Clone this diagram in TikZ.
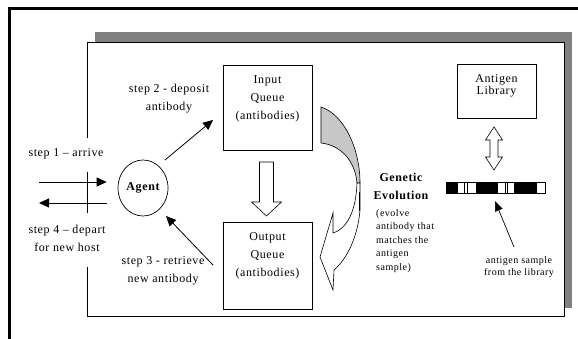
\documentclass[tikz,border=0pt]{standalone}
\usepackage{fontspec}
\setmainfont{Liberation Serif}[LetterSpace=5]
\usetikzlibrary{shapes.geometric,arrows.meta,calc}
\begin{document}
\begin{tikzpicture}[x=1pt,y=-1pt,
  txt/.style={font=\fontsize{12}{18}\selectfont, align=center, inner sep=0pt},
  small/.style={font=\fontsize{10}{13.5}\selectfont, align=left, inner sep=0pt},
  box/.style={draw, line width=0.8pt, fill=white, inner sep=0pt},
  arr/.style={line width=0.8pt, -{Triangle[length=10pt,width=9pt]}},
  hollow/.style={draw, line width=0.6pt, fill=white, line join=miter}]
\useasboundingbox (0,0) rectangle (578,339);
\fill[white] (0,0) rectangle (578,339);
% outer frame
\draw[line width=3pt] (9.5,340) -- (9.5,8.5) -- (579,8.5);
% shadow and inner panel
\fill[black!50] (95,32) rectangle (572,308);
\fill[white] (87,42) rectangle (564,316);
\draw[line width=0.9pt] (87,138) -- (87,42) -- (564,42) -- (564,316) -- (87,316) -- (87,267);
\draw[line width=0.9pt] (87,172) -- (87,213);
% boxes
\node[box, minimum width=89pt, minimum height=85pt] (inq) at (267.5,107.5) {};
\node[box, minimum width=89pt, minimum height=87pt] (outq) at (267.5,265.5) {};
\node[box, minimum width=79pt, minimum height=54pt] (lib) at (496.5,91) {};
\node[ellipse, draw, line width=0.7pt, minimum width=50pt, minimum height=56pt, inner sep=0pt,
      font=\bfseries\fontsize{12}{14}\selectfont] (agent) at (143,188) {Agent};
% texts
\node[txt] (inqt) at (267.5,98.5) {Input\\Queue\\(antibodies)};
\node[txt] (outqt) at (267.5,255.5) {Output\\Queue\\(antibodies)};
\node[txt, font=\fontsize{12}{12.5}\selectfont] (libt) at (496.5,86) {Antigen\\Library};
\node[txt] (s2t) at (169,99) {step 2 - deposit\\antibody};
\node[txt] (s3t) at (163,270.5) {step 3 - retrieve\\new antibody};
\node[txt] (s1t) at (66,154) {step 1 – arrive};
\node[txt] (s4t) at (67,238) {step 4 – depart\\for new host};
\node[txt, font=\bfseries\fontsize{12}{18}\selectfont] (ge) at (401,186) {Genetic\\Evolution};
\node[small, anchor=north west] (get) at (376,209) {(evolve\\antibody that\\matches the\\antigen\\sample)};
\node[small, align=center, font=\fontsize{10}{12.5}\selectfont] (ast) at (519,267) {antigen sample\\from the library};
% step arrows
\coordinate (s1a) at (39,182);
\coordinate (s4a) at (39,203);
\draw[arr, shorten >=11pt] (s1a) -- (s1a -| agent.west);
\draw[arr, shorten <=11pt] (agent.west |- s4a) -- (s4a);
\coordinate (s2a) at (165,160);
\coordinate (s2b) at (213,120);
\draw[arr] (s2a) -- (s2b);
\coordinate (s3a) at (213,265);
\coordinate (s3b) at (166,216);
\draw[arr] (s3a) -- (s3b);
% hollow down arrow between queues
\draw[hollow] (259.5,162) -- (273.5,162) -- (273.5,202) -- (281.5,202) -- (266.5,216) -- (251.5,202) -- (259.5,202) -- cycle;
% double arrow under library
\draw[hollow] (494,127) -- (502.5,140) -- (498,140) -- (498,157) -- (502.5,157) -- (494,170)
  -- (485.5,157) -- (490,157) -- (490,140) -- (485.5,140) -- cycle;
% barcode
\fill[black] (446,182) rectangle (457,193);
\fill[black] (476,182) rectangle (497,193);
\fill[black] (514,182) rectangle (536,193);
\draw[line width=0.6pt] (446,182) rectangle (545,193);
\foreach \x in {457,464.5,467,476,497,505,507,514,536} \draw[line width=0.5pt] (\x,182) -- (\x,193);
\coordinate (asa) at (514,247);
\coordinate (asb) at (495,201);
\draw[line width=0.7pt, -{Triangle[length=10pt,width=8pt]}] (asa) -- (asb);
% curved arrow (genetic evolution)
\filldraw[fill=black!22, line width=0.6pt] (321,107) .. controls (345,115) and (360,150) .. (360,183)
  -- (357,183) .. controls (355,160) and (340,145) .. (321,143) -- cycle;
\filldraw[fill=white, line width=0.6pt, line join=miter] (360,183) -- (360,210)
  .. controls (358,235) and (348,258) .. (334,270) -- (333,290) -- (320,257) -- (333,213) -- (333,233)
  .. controls (348,228) and (356,210) .. (357,183) -- cycle;
\draw[line width=1.2pt] (359.5,192) -- (359.5,211);
\end{tikzpicture}
\end{document}
